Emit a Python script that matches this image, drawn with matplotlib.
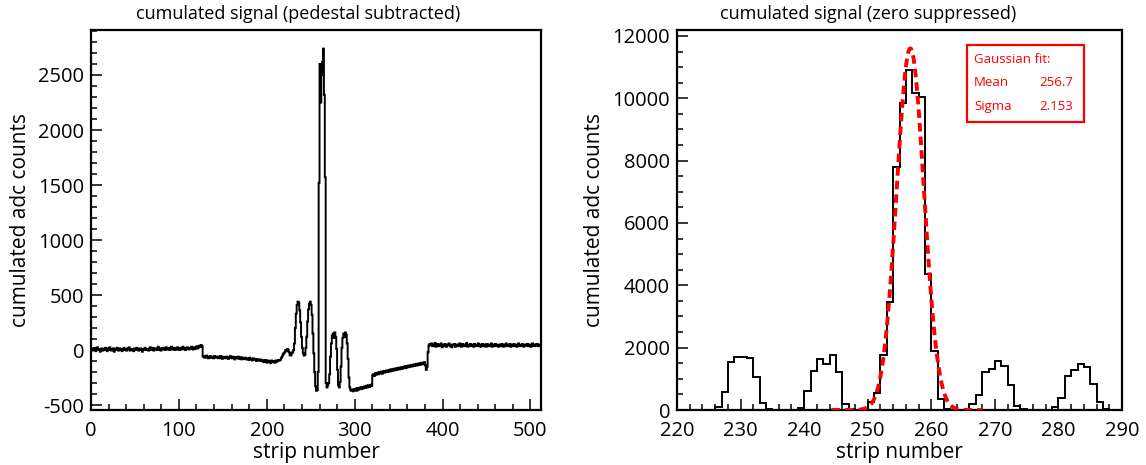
import numpy as np
import matplotlib
matplotlib.use("Agg")
import matplotlib.pyplot as plt
from matplotlib.patches import Rectangle

plt.rcParams['font.family'] = ['Open Sans', 'DejaVu Sans']
plt.rcParams['axes.unicode_minus'] = False

# ---------------- data: left panel (pedestal subtracted), one value per strip 0..511
ped_strip_0_126 = [
    10, -5, 15, 0, 20, -10, 5, 25, 0, 10, -15, 5, 15, -5, 10, 0,
    20, 5, -10, 15, 0, 25, 10, -5, 5, 15, -15, 10, 0, 20, 5, -5,
    15, 0, 10, -10, 5, 20, 0, 10, -5, 15, 5, 25, -5, 0, 10, 5,
    -10, 15, 5, 0, 20, 10, -5, 5, 15, 0, -15, 10, 5, 20, 0, 10,
    5, -5, 15, 25, 0, 10, 20, -5, 5, 15, 10, 0, 30, 5, 15, -5,
    10, 20, 5, 15, 0, 25, 10, 5, 20, 0, 15, 30, 5, 10, 20, 0,
    15, 5, 25, 10, 0, 20, 15, 5, 30, 10, 20, 0, 15, 25, 10, 5,
    20, 10, 30, 15, 5, 25, 10, 20, 35, 15, 25, 40, 30, 45, 35]
ped_strip_127_214 = [
    -60, -55, -70, -65, -50, -60, -75, -65, -55, -70, -60, -65, -75, -55, -60, -70,
    -65, -60, -75, -70, -55, -65, -80, -60, -70, -65, -75, -60, -70, -80, -65, -55,
    -70, -75, -60, -70, -85, -65, -75, -70, -60, -80, -75, -65, -85, -70, -75, -80,
    -70, -85, -75, -80, -90, -70, -85, -80, -95, -75, -85, -90, -80, -100, -85, -90,
    -95, -85, -100, -90, -105, -95, -110, -90, -100, -115, -95, -105, -100, -120, -95, -110,
    -105, -100, -115, -95, -105, -100, -90, -95]
ped_strip_215_228 = [-90, -75, -60, -40, -30, -20, 0, -10, 10, 0, -20, -45, -50, -30]
ped_strip_229_295 = [
    -20, 0, 60, 200, 330, 410, 440, 430, 360, 250, 120, 20, -30, -50, -40, 20,
    120, 260, 370, 420, 440, 410, 320, 150, -30, -200, -330, -370, -364, -200,
    1520, 2600, 2250, 2500, 2620, 2740, 2320, 1570, -300,
    -340, -320, -300, -220, -60, 60, 130, 150, 110, 160, 120, 10, -180, -320,
    -340, -290, -150, 20, 110, 150, 120, 160, 140, 60, -80, -250, -340, -365]
ped_strip_296_319 = [
    -370, -360, -375, -355, -365, -350, -370, -345, -360, -350, -340, -355,
    -335, -350, -345, -330, -345, -325, -340, -320, -335, -330, -315, -325]
ped_strip_320_383 = [
    -230, -220, -235, -210, -225, -215, -205, -220, -200, -210, -195, -215, -200, -190, -205, -195,
    -185, -200, -190, -180, -195, -175, -190, -180, -170, -185, -175, -165, -180, -170, -160, -175,
    -165, -155, -170, -160, -150, -165, -145, -160, -150, -140, -155, -145, -135, -150, -140, -130,
    -145, -135, -125, -140, -130, -120, -135, -125, -115, -130, -120, -110, -140, -180, -150, -20]
ped_strip_384_511 = [
    40, 55, 45, 60, 35, 50, 40, 65, 30, 45, 55, 35, 50, 40, 60, 25,
    45, 35, 55, 40, 30, 50, 45, 60, 35, 40, 25, 50, 45, 55, 30, 40,
    50, 35, 45, 60, 40, 30, 55, 45, 35, 50, 40, 65, 30, 45, 40, 55,
    35, 45, 50, 30, 55, 40, 45, 35, 60, 40, 50, 30, 45, 55, 35, 50,
    40, 30, 55, 45, 35, 50, 40, 60, 30, 45, 50, 35, 55, 40, 45, 30,
    50, 40, 35, 55, 45, 30, 50, 40, 60, 35, 45, 40, 55, 30, 50, 45,
    35, 55, 40, 45, 30, 50, 60, 40, 35, 45, 55, 40, 30, 50, 45, 40,
    55, 35, 45, 50, 30, 40, 60, 45, 35, 50, 40, 55, 45, 35, 50, 40]

ped_values = np.array(ped_strip_0_126 + ped_strip_127_214 + ped_strip_215_228 +
                      ped_strip_229_295 + ped_strip_296_319 + ped_strip_320_383 +
                      ped_strip_384_511, dtype=float)
n_strips = 512

# ---------------- data: right panel (zero suppressed), strips 220..289
zs_first_strip = 220
zs_counts = [
    0, 0, 0, 0, 0, 0, 110, 570, 1530, 1690,          # 220-229
    1700, 1670, 1070, 230, 30, 0, 0, 0, 0, 60,       # 230-239
    600, 1250, 1640, 1480, 1770, 1220, 180, 20, 0, 30,  # 240-249
    250, 552, 1755, 3455, 7790, 9860, 10900, 10175, 10050, 4360,  # 250-259
    1880, 340, 30, 0, 0, 0, 200, 490, 1220, 1320,    # 260-269
    1560, 1400, 800, 130, 30, 0, 0, 0, 0, 90,        # 270-279
    370, 1100, 1290, 1480, 1375, 846, 255, 40, 0, 0]  # 280-289

fit_mean = 256.7
fit_sigma = 2.153
fit_amp = 11600
fit_range = (244.3, 268.0)

# ---------------- figure
W, H = 1146, 465
fig = plt.figure(figsize=(W / 100, H / 100), dpi=100)

def px_axes(x0, y0, x1, y1):
    return fig.add_axes([x0 / W, 1 - y1 / H, (x1 - x0) / W, (y1 - y0) / H])

def fx(x):
    return x / W

def fy(y):
    return 1 - y / H

axL = px_axes(91, 30, 541, 410)
axR = px_axes(677, 30, 1122, 410)

tick_fs = 14.5
label_fs = 15
title_fs = 13

def style(ax):
    for s in ax.spines.values():
        s.set_linewidth(1.6)
    ax.tick_params(which='both', direction='in', top=False, right=False,
                   labelsize=tick_fs, width=1.1)
    ax.tick_params(axis='x', which='both', pad=8)
    ax.tick_params(axis='y', which='both', pad=5)
    ax.tick_params(which='major', length=8)
    ax.tick_params(which='minor', length=4.5)

# left
edges = np.arange(n_strips + 1)
axL.stairs(ped_values, edges, color='black', linewidth=1.4, baseline=None)
axL.set_xlim(0, 512)
axL.set_ylim(-545, 2909)
axL.set_xticks(np.arange(0, 501, 100))
axL.set_xticks(np.arange(0, 512, 20), minor=True)
axL.set_yticks(np.arange(-500, 2501, 500))
axL.set_yticks(np.arange(-500, 2901, 100), minor=True)
style(axL)
axL.set_xlabel('strip number', fontsize=label_fs, labelpad=0.5)
axL.set_ylabel('cumulated adc counts', fontsize=label_fs, labelpad=5)

# right
zs_edges = np.arange(zs_first_strip, zs_first_strip + len(zs_counts) + 1)
axR.stairs(zs_counts, zs_edges, color='black', linewidth=1.4, baseline=0)
xf = np.linspace(fit_range[0], fit_range[1], 400)
yf = fit_amp * np.exp(-0.5 * ((xf - fit_mean) / fit_sigma) ** 2)
axR.plot(xf, yf, color='#ff0000', linewidth=2.8, linestyle=(0, (2.2, 1.3)), zorder=3)
axR.set_xlim(220, 290)
axR.set_ylim(0, 12190)
axR.set_xticks(np.arange(220, 291, 10))
axR.set_xticks(np.arange(220, 291, 2), minor=True)
axR.set_yticks(np.arange(0, 12001, 2000))
axR.set_yticks(np.arange(0, 12001, 500), minor=True)
style(axR)
axR.set_xlabel('strip number', fontsize=label_fs, labelpad=0.5)
axR.set_ylabel('cumulated adc counts', fontsize=label_fs, labelpad=5)

# titles (positioned as in the reference, centred slightly left of each frame)
fig.text(fx(298), fy(14), 'cumulated signal (pedestal subtracted)',
         fontsize=title_fs, ha='center', va='center')
fig.text(fx(868), fy(14), 'cumulated signal (zero suppressed)',
         fontsize=title_fs, ha='center', va='center')

# fit box
red = '#ff0000'
fig.patches.append(Rectangle((fx(967), fy(122)), (1084 - 967) / W, (122 - 45) / H,
                             transform=fig.transFigure, fill=False,
                             edgecolor=red, linewidth=1.6, zorder=5))
box_fs = 9.5
fig.text(fx(974), fy(59), 'Gaussian fit:', color=red, fontsize=box_fs, va='center', ha='left')
fig.text(fx(974), fy(83), 'Mean', color=red, fontsize=box_fs, va='center', ha='left')
fig.text(fx(1073), fy(83), f'{fit_mean:.1f}', color=red, fontsize=box_fs, va='center', ha='right')
fig.text(fx(974), fy(106), 'Sigma', color=red, fontsize=box_fs, va='center', ha='left')
fig.text(fx(1073), fy(106), f'{fit_sigma:.3f}', color=red, fontsize=box_fs, va='center', ha='right')

fig.savefig('out.png', dpi=100)
